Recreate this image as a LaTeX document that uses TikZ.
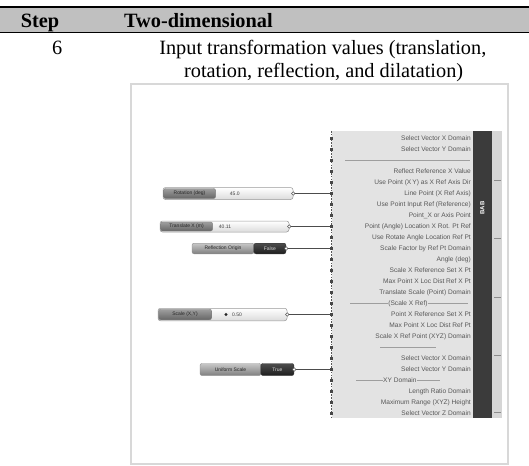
\documentclass[tikz,border=0pt]{standalone}
\usepackage{fontspec}
\setmainfont{Liberation Serif}
\newfontfamily\uifont{Liberation Sans}
\definecolor{headgray}{HTML}{C0C0C0}
\definecolor{framegray}{HTML}{D8D8D8}
\definecolor{panelgray}{HTML}{E3E3E3}
\definecolor{bargray}{HTML}{3B3B3B}
\definecolor{stripgray}{HTML}{D6D6D6}
\begin{document}
\begin{tikzpicture}[x=1pt,y=-1pt,
  tabtext/.style={inner sep=0pt, font=\fontsize{20.3}{24}\selectfont},
  rowtext/.style={anchor=east, inner sep=0pt, text=black!66,
    font=\uifont\fontsize{6.6}{7}\selectfont},
  grip/.style={fill=black!72, minimum width=3.4pt, minimum height=2.6pt,
    inner sep=0pt},
  outgrip/.style={circle, draw=black!65, fill=white, line width=0.5pt,
    minimum size=3.6pt, inner sep=0pt},
  sliderbody/.style={draw=black!40, rounded corners=2.5pt, line width=0.5pt,
    top color=white, bottom color=black!14, inner sep=0pt},
  sliderlabel/.style={draw=black!50, rounded corners=2pt, line width=0.4pt,
    top color=black!38, bottom color=black!60, inner sep=0pt,
    text=black!85, font=\uifont\fontsize{5}{5}\selectfont},
  togglelabel/.style={draw=black!45, rounded corners=2pt, line width=0.4pt,
    top color=black!22, bottom color=black!50, inner sep=0pt,
    text=black!85, font=\uifont\fontsize{5}{5}\selectfont},
  toggledark/.style={draw=black!80, rounded corners=2pt, line width=0.4pt,
    top color=black!70, bottom color=black!88, inner sep=0pt,
    text=white!85!black, font=\uifont\fontsize{5}{5}\selectfont},
  valtext/.style={inner sep=0pt, text=black!75,
    font=\uifont\fontsize{5}{5}\selectfont},
  wire/.style={draw=black!70, line width=0.8pt},
  sepline/.style={draw=black!38, line width=0.4pt}]
\useasboundingbox (0,0) rectangle (529,465);

% ---- table header ----
\fill[headgray] (0,7.4) rectangle (529,31.8);
\draw[line width=1.6pt] (0,6.8) -- (529,6.8);
\draw[line width=1.1pt] (0,32.2) -- (529,32.2);
\node[tabtext, anchor=base west] (hstep) at (20.6,27.6) {\bfseries Step};
\node[tabtext, anchor=base west] (hdim) at (124,27.6) {\bfseries Two-dimensional};
\node[tabtext, anchor=base] (num) at (57.2,55) {6};
\node[tabtext, anchor=base] (desc1) at (322.8,55) {Input transformation values (translation,};
\node[tabtext, anchor=base] (desc2) at (323.6,78) {rotation, reflection, and dilatation)};

% ---- screenshot frame ----
\draw[framegray, line width=2pt] (130.6,84.2) rectangle (508,463.8);

% ---- transform cluster ----
\fill[panelgray] (332,131) rectangle (473,418);
\fill[bargray] (473,131) rectangle (491.6,418);
\fill[stripgray] (491.6,131) rectangle (502,418);
\draw[black!65, line width=0.9pt, dash pattern=on 1.6pt off 1.2pt] (331.6,131) -- (331.6,418);
\node[rotate=90, text=white, inner sep=0pt,
  font=\uifont\bfseries\fontsize{6}{6}\selectfont] (xname) at (482.3,208) {BAB};
\foreach \y [count=\k] in {180,238,297,355,412}
  \draw[black!45, line width=0.6pt] (494,\y) -- (500.5,\y);

% input grips, one per row
\foreach \i in {0,...,25}
  \node[grip] (in\i) at (331.4,138.5+11*\i) {};

% row captions
\foreach \i/\t in {
  0/Select Vector X Domain,
  1/Select Vector Y Domain,
  3/Reflect Reference X Value,
  4/Use Point (X\,Y) as X Ref Axis Dir,
  5/Line Point (X Ref Axis),
  6/Use Point Input Ref (Reference),
  7/Point\_X or Axis Point,
  8/Point (Angle) Location X Rot. Pt Ref,
  9/Use Rotate Angle Location Ref Pt,
  10/Scale Factor by Ref Pt Domain,
  11/Angle (deg),
  12/Scale X Reference Set X Pt,
  13/Max Point X Loc Dist Ref X Pt,
  14/Translate Scale (Point) Domain,
  16/Point X Reference Set X Pt,
  17/Max Point X Loc Dist Ref Pt,
  18/Scale X Ref Point (XYZ) Domain,
  20/Select Vector X Domain,
  21/Select Vector Y Domain,
  23/Length Ratio Domain,
  24/Maximum Range (XYZ) Height,
  25/Select Vector Z Domain}
  \node[rowtext] (cap\i) at (471,138.5+11*\i) {\t};

% section dividers
\draw[sepline] (345,160.5) -- (470,160.5);
\node[rowtext, anchor=center] (sec15) at (408,303.5) {(Scale X Ref)};
\draw[sepline] (350,303.5) -- (sec15.west);
\draw[sepline] (sec15.east) -- (468,303.5);
\draw[sepline] (380,347.5) -- (436,347.5);
\node[rowtext, anchor=west] (sec22) at (383,380.5) {XY Domain};
\draw[sepline] (356,380.5) -- (sec22.west);
\draw[sepline] (sec22.east) -- (440,380.5);

% ---- slider 1 ----
\node[sliderbody, minimum width=130pt, minimum height=12pt] (s1) at (228,193.5) {};
\node[sliderlabel, minimum width=52pt, minimum height=10pt, anchor=west] (s1l) at ([xshift=0.6pt]s1.west) {Rotation (deg)};
\node[valtext, anchor=west] (s1v) at ([xshift=14pt]s1l.east) {45.0};
\node[outgrip] (s1o) at (s1.east) {};

% ---- slider 2 ----
\node[sliderbody, minimum width=129pt, minimum height=11pt] (s2) at (224.5,226.5) {};
\node[sliderlabel, minimum width=52pt, minimum height=9pt, anchor=west] (s2l) at ([xshift=0.6pt]s2.west) {Translate X (m)};
\node[valtext, anchor=west] (s2v) at ([xshift=6pt]s2l.east) {40.11};
\node[outgrip] (s2o) at (s2.east) {};

% ---- toggle 3 ----
\node[togglelabel, minimum width=62pt, minimum height=10.6pt] (t3l) at (223,248.5) {Reflection Origin};
\node[toggledark, minimum width=32pt, minimum height=10.6pt, anchor=west] (t3d) at ([xshift=-0.5pt]t3l.east) {False};
\node[outgrip] (t3o) at (t3d.east) {};

% ---- slider 4 ----
\node[sliderbody, minimum width=129pt, minimum height=12.5pt] (s4) at (222.5,314.5) {};
\node[sliderlabel, minimum width=53pt, minimum height=10.5pt, anchor=west] (s4l) at ([xshift=0.6pt]s4.west) {Scale (X,Y)};
\node[circle, fill=black!85, minimum size=3.4pt, inner sep=0pt] (s4k) at (226,314.5) {};
\node[valtext, anchor=west] (s4v) at ([xshift=4pt]s4k.east) {0.50};
\node[outgrip] (s4o) at (s4.east) {};

% ---- toggle 5 ----
\node[togglelabel, minimum width=61pt, minimum height=12pt] (t5l) at (230.5,369.5) {Uniform Scale};
\node[toggledark, minimum width=33pt, minimum height=12pt, anchor=west] (t5d) at ([xshift=-0.5pt]t5l.east) {True};
\node[outgrip] (t5o) at (t5d.east) {};

% ---- wires into the cluster ----
\draw[wire] (s1o) -- (in5);
\draw[wire] (s2o) -- (in8);
\draw[wire] (t3o) -- (in10);
\draw[wire] (s4o) -- (in16);
\draw[wire] (t5o) -- (in21);
\end{tikzpicture}
\end{document}
